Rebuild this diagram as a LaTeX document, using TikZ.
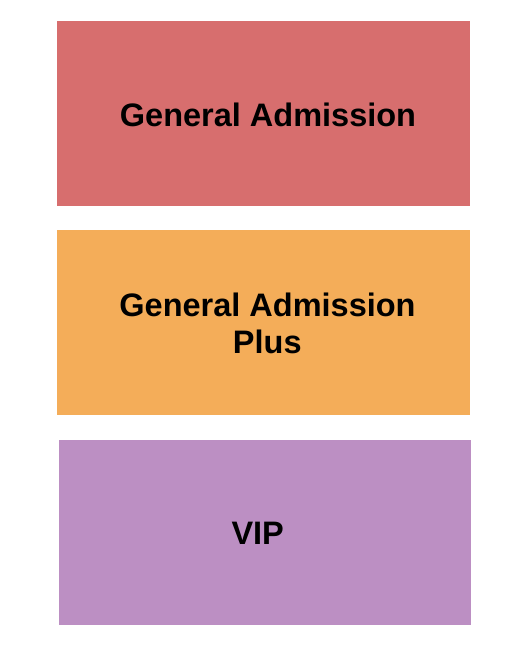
\documentclass[tikz,border=0pt]{standalone}
\usepackage{fontspec}
\setmainfont{Liberation Sans}
\definecolor{gared}{RGB}{215,110,110}
\definecolor{gaplus}{RGB}{244,173,89}
\definecolor{vipc}{RGB}{188,143,195}
\begin{document}
\begin{tikzpicture}[x=1pt,y=1pt,
  section/.style={draw=none,inner sep=0pt,anchor=south west},
  label/.style={inner sep=0pt,anchor=base,font=\fontsize{32.5}{37}\selectfont\bfseries,text=black}]
\useasboundingbox (0,0) rectangle (525,650);
\fill[white] (0,0) rectangle (525,650);
\node[section,fill=gared,minimum width=413pt,minimum height=185pt] (ga) at (57,444) {};
\node[section,fill=gaplus,minimum width=413pt,minimum height=185pt] (gap) at (57,235) {};
\node[section,fill=vipc,minimum width=412pt,minimum height=185pt] (vip) at (59,25) {};
\node[label] (gat) at (268,523.3) {General Admission};
\node[label] (gapt1) at (267.5,333.3) {General Admission};
\node[label] (gapt2) at (267.3,296) {Plus};
\node[label] (vipt) at (257.7,105) {VIP};
\end{tikzpicture}
\end{document}
